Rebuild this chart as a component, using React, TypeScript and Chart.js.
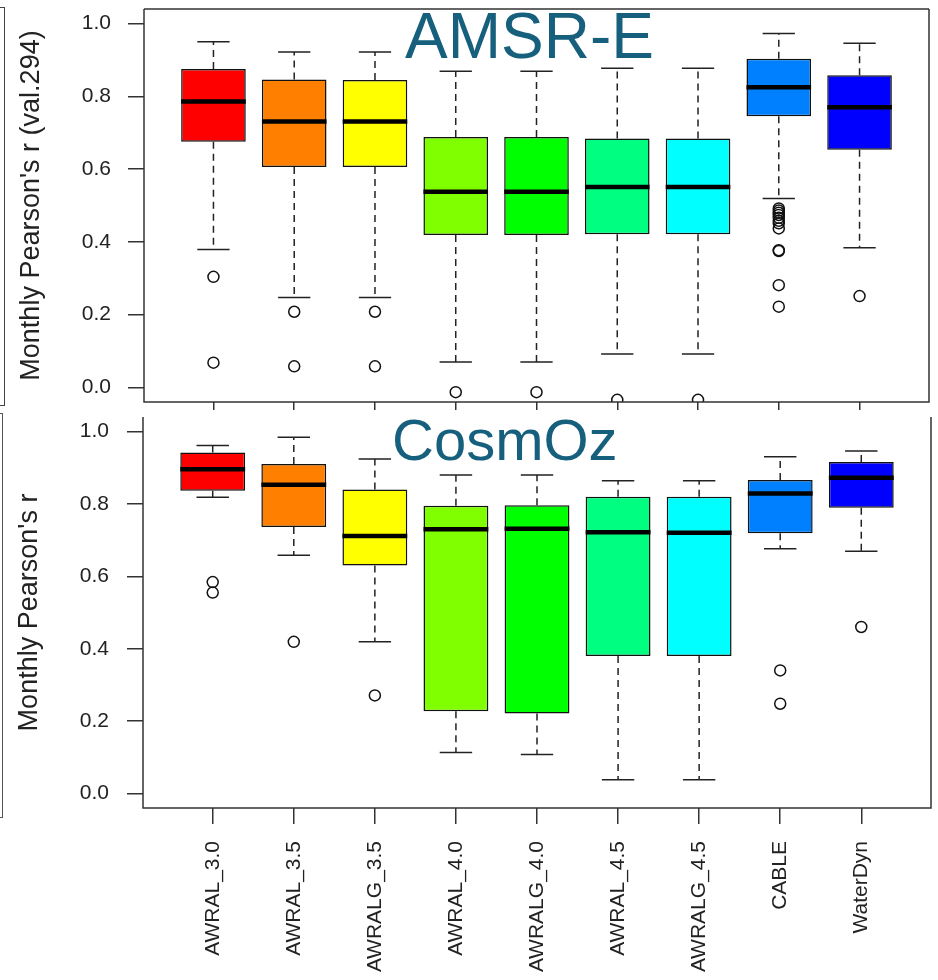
import React, { useEffect, useRef } from 'react';
import { Chart, registerables } from 'chart.js';

Chart.register(...registerables);

// ---------- data ----------
const CATEGORIES = ['AWRAL_3.0', 'AWRAL_3.5', 'AWRALG_3.5', 'AWRAL_4.0', 'AWRALG_4.0', 'AWRAL_4.5', 'AWRALG_4.5', 'CABLE', 'WaterDyn'];
const Y_TICKS = [0, 0.2, 0.4, 0.6, 0.8, 1.0];

// AMSR-E panel (top)
const AMSR_LOWER = [0.379, 0.247, 0.247, 0.070, 0.070, 0.092, 0.092, 0.519, 0.384];
const AMSR_Q1 = [0.675, 0.606, 0.606, 0.419, 0.419, 0.421, 0.421, 0.745, 0.653];
const AMSR_MEDIAN = [0.786, 0.731, 0.731, 0.538, 0.538, 0.551, 0.551, 0.825, 0.770];
const AMSR_Q3 = [0.875, 0.846, 0.845, 0.688, 0.688, 0.684, 0.684, 0.903, 0.858];
const AMSR_UPPER = [0.950, 0.922, 0.922, 0.869, 0.869, 0.877, 0.877, 0.973, 0.946];
const AMSR_OUTLIERS = [
  [0.304, 0.068],
  [0.208, 0.058],
  [0.208, 0.058],
  [-0.013],
  [-0.013],
  [-0.034],
  [-0.034],
  [0.492, 0.486, 0.480, 0.474, 0.466, 0.458, 0.451, 0.437, 0.377, 0.375, 0.281, 0.222],
  [0.251],
];

// CosmOz panel (bottom)
const COSMOZ_LOWER = [0.818, 0.658, 0.419, 0.113, 0.108, 0.038, 0.038, 0.676, 0.669];
const COSMOZ_Q1 = [0.836, 0.736, 0.630, 0.227, 0.221, 0.380, 0.380, 0.719, 0.789];
const COSMOZ_MEDIAN = [0.896, 0.853, 0.711, 0.730, 0.731, 0.722, 0.720, 0.829, 0.872];
const COSMOZ_Q3 = [0.942, 0.910, 0.840, 0.795, 0.796, 0.820, 0.820, 0.866, 0.916];
const COSMOZ_UPPER = [0.961, 0.984, 0.924, 0.880, 0.880, 0.864, 0.864, 0.930, 0.946];
const COSMOZ_OUTLIERS = [
  [0.584, 0.555],
  [0.419],
  [0.271],
  [],
  [],
  [],
  [],
  [0.340, 0.248],
  [0.460],
];

// ---------- styles ----------
const BOX_COLORS = ['#FF0000', '#FF8000', '#FFFF00', '#80FF00', '#00FF00', '#00FF80', '#00FFFF', '#0080FF', '#0000FF'];
const FONT = "'Liberation Sans', Arial, Helvetica, sans-serif";
const AXIS_COLOR = '#333333';
const TEXT_COLOR = '#222222';
const PANEL_TITLE_COLOR = '#16607e';
const X_MIN = 0.14;
const X_MAX = 9.86;
const Y_MIN = -0.04;
const Y_MAX = 1.04;
const BOX_HALF = 0.4;
const CAP_HALF = 0.2;

Chart.defaults.font.family = FONT;

type PanelSpec = {
  lower: number[];
  q1: number[];
  median: number[];
  q3: number[];
  upper: number[];
  outliers: number[][];
  yTitle: string;
  panelTitle: string;
  panelTitleSize: number;
  panelTitleX: number;
  panelTitleY: number;
  drawTopFrame: boolean;
  showXLabels: boolean;
  padding: { left: number; right: number; top: number; bottom: number };
  yAxisWidth: number;
  xAxisHeight: number;
  yTitlePad: number;
  yTickPad: number;
};

function framePlugin(drawTop: boolean) {
  return {
    id: 'frame',
    afterDraw(chart: any) {
      const { ctx, chartArea: a } = chart;
      ctx.save();
      ctx.strokeStyle = AXIS_COLOR;
      ctx.lineWidth = 1.5;
      ctx.beginPath();
      if (drawTop) {
        ctx.moveTo(a.left, a.top);
        ctx.lineTo(a.right, a.top);
      }
      ctx.moveTo(a.left, a.top);
      ctx.lineTo(a.left, a.bottom);
      ctx.lineTo(a.right, a.bottom);
      ctx.lineTo(a.right, a.top);
      ctx.stroke();
      ctx.restore();
    },
  };
}

function panelTitlePlugin(text: string, size: number, x: number, y: number) {
  return {
    id: 'panelTitle',
    afterDatasetsDraw(chart: any) {
      const ctx = chart.ctx;
      ctx.save();
      ctx.font = `${size}px ${FONT}`;
      ctx.fillStyle = PANEL_TITLE_COLOR;
      ctx.textAlign = 'left';
      ctx.textBaseline = 'alphabetic';
      ctx.fillText(text, x, y);
      ctx.restore();
    },
  };
}

function makeConfig(p: PanelSpec): any {
  const boxData: any[] = [];
  const whiskerPts: any[] = [];
  const capPts: any[] = [];
  const medPts: any[] = [];
  const outPts: any[] = [];
  CATEGORIES.forEach((_, i) => {
    const x = i + 1;
    boxData.push({ x, y: [p.q1[i], p.q3[i]] });
    whiskerPts.push(
      { x, y: p.q3[i] }, { x, y: p.upper[i] }, { x, y: null },
      { x, y: p.q1[i] }, { x, y: p.lower[i] }, { x, y: null },
    );
    capPts.push(
      { x: x - CAP_HALF, y: p.upper[i] }, { x: x + CAP_HALF, y: p.upper[i] }, { x, y: null },
      { x: x - CAP_HALF, y: p.lower[i] }, { x: x + CAP_HALF, y: p.lower[i] }, { x, y: null },
    );
    medPts.push({ x: x - BOX_HALF, y: p.median[i] }, { x: x + BOX_HALF, y: p.median[i] }, { x, y: null });
    p.outliers[i].forEach((v) => outPts.push({ x, y: v }));
  });

  const gridOpts = {
    offset: false,
    drawOnChartArea: false,
    drawTicks: true,
    tickLength: 16,
    color: AXIS_COLOR,
    lineWidth: 1.5,
  };

  const zeroPad = (s: any) => {
    s.paddingTop = 0;
    s.paddingBottom = 0;
    s.paddingLeft = 0;
    s.paddingRight = 0;
  };

  return {
    type: 'bar',
    data: {
      datasets: [
        {
          type: 'line', label: 'median', data: medPts, borderColor: '#000000', borderWidth: 4.5,
          borderCapStyle: 'butt', pointRadius: 0, spanGaps: false, fill: false, tension: 0, order: 0,
        },
        {
          type: 'line', label: 'outliers', data: outPts, showLine: false, pointStyle: 'circle', pointRadius: 5.5,
          pointBorderWidth: 1.5, pointBorderColor: '#111111', pointBackgroundColor: 'rgba(0,0,0,0)', clip: 0, order: 1,
        },
        {
          type: 'line', label: 'caps', data: capPts, borderColor: '#222222', borderWidth: 1.5,
          pointRadius: 0, spanGaps: false, fill: false, tension: 0, order: 2,
        },
        {
          type: 'line', label: 'whiskers', data: whiskerPts, borderColor: '#222222', borderWidth: 1.5,
          borderDash: [7, 5], pointRadius: 0, spanGaps: false, fill: false, tension: 0, order: 3,
        },
        {
          type: 'bar', label: 'boxes', data: boxData, backgroundColor: BOX_COLORS, borderColor: '#111111',
          borderWidth: 1.5, borderSkipped: false, barPercentage: 0.8, categoryPercentage: 1, grouped: false, order: 4,
        },
      ],
    },
    options: {
      responsive: false,
      animation: false,
      events: [],
      layout: { padding: p.padding },
      plugins: {
        legend: { display: false },
        tooltip: { enabled: false },
        title: { display: false },
      },
      scales: {
        x: {
          type: 'linear',
          min: X_MIN,
          max: X_MAX,
          offset: false,
          grid: gridOpts,
          border: { display: false },
          afterBuildTicks: (s: any) => {
            s.ticks = CATEGORIES.map((_, i) => ({ value: i + 1 }));
          },
          afterFit: (s: any) => {
            s.height = p.xAxisHeight;
            zeroPad(s);
          },
          ticks: {
            display: p.showXLabels,
            autoSkip: false,
            minRotation: 90,
            maxRotation: 90,
            padding: 17,
            color: TEXT_COLOR,
            font: { size: 21, family: FONT },
            callback: (_v: any, i: number) => CATEGORIES[i],
          },
        },
        y: {
          type: 'linear',
          min: Y_MIN,
          max: Y_MAX,
          grid: gridOpts,
          border: { display: false },
          afterBuildTicks: (s: any) => {
            s.ticks = Y_TICKS.map((v) => ({ value: v }));
          },
          afterFit: (s: any) => {
            s.width = p.yAxisWidth;
            zeroPad(s);
          },
          ticks: {
            padding: p.yTickPad,
            color: TEXT_COLOR,
            font: { size: 21, family: FONT },
            callback: (v: any) => Number(v).toFixed(1),
          },
          title: {
            display: true,
            text: p.yTitle,
            color: TEXT_COLOR,
            font: { size: 27, family: FONT },
            padding: { top: p.yTitlePad, bottom: 0 },
          },
        },
      },
    },
    plugins: [
      panelTitlePlugin(p.panelTitle, p.panelTitleSize, p.panelTitleX, p.panelTitleY),
      framePlugin(p.drawTopFrame),
    ],
  };
}

const TOP_SPEC: PanelSpec = {
  lower: AMSR_LOWER,
  q1: AMSR_Q1,
  median: AMSR_MEDIAN,
  q3: AMSR_Q3,
  upper: AMSR_UPPER,
  outliers: AMSR_OUTLIERS,
  yTitle: "Monthly Pearson's r (val.294)",
  panelTitle: 'AMSR-E',
  panelTitleSize: 64,
  panelTitleX: 405,
  panelTitleY: 58,
  drawTopFrame: true,
  showXLabels: false,
  padding: { left: 0, right: 9, top: 9, bottom: 0 },
  yAxisWidth: 144,
  xAxisHeight: 8,
  yTitlePad: 15,
  yTickPad: 17,
};

const BOTTOM_SPEC: PanelSpec = {
  lower: COSMOZ_LOWER,
  q1: COSMOZ_Q1,
  median: COSMOZ_MEDIAN,
  q3: COSMOZ_Q3,
  upper: COSMOZ_UPPER,
  outliers: COSMOZ_OUTLIERS,
  yTitle: "Monthly Pearson's r",
  panelTitle: 'CosmOz',
  panelTitleSize: 58,
  panelTitleX: 392,
  panelTitleY: 50,
  drawTopFrame: false,
  showXLabels: true,
  padding: { left: 0, right: 5, top: 3.4, bottom: 0 },
  yAxisWidth: 143,
  xAxisHeight: 172,
  yTitlePad: 13,
  yTickPad: 18,
};

function BoxPanel({ spec, top, width, height }: { spec: PanelSpec; top: number; width: number; height: number }) {
  const ref = useRef<HTMLCanvasElement>(null);
  useEffect(() => {
    const chart = new Chart(ref.current as HTMLCanvasElement, makeConfig(spec));
    return () => chart.destroy();
  }, [spec]);
  return (
    <canvas
      ref={ref}
      width={width}
      height={height}
      style={{ position: 'absolute', left: 0, top, width, height, display: 'block' }}
    />
  );
}

export default function App() {
  return (
    <div
      style={{
        position: 'fixed',
        left: 0,
        top: 0,
        width: 938,
        height: 980,
        background: '#ffffff',
        overflow: 'hidden',
      }}
    >
      <BoxPanel spec={TOP_SPEC} top={0} width={938} height={410} />
      <BoxPanel spec={BOTTOM_SPEC} top={410} width={938} height={570} />
      <div
        style={{
          position: 'absolute', left: -2, top: 7, width: 6, height: 397,
          borderTop: '1.5px solid #444', borderRight: '1.5px solid #444', borderBottom: '1.5px solid #444',
        }}
      />
      <div
        style={{
          position: 'absolute', left: -2, top: 413, width: 3.5, height: 403,
          borderTop: '1.5px solid #555', borderRight: '1.5px solid #555', borderBottom: '1.5px solid #555',
        }}
      />
    </div>
  );
}
